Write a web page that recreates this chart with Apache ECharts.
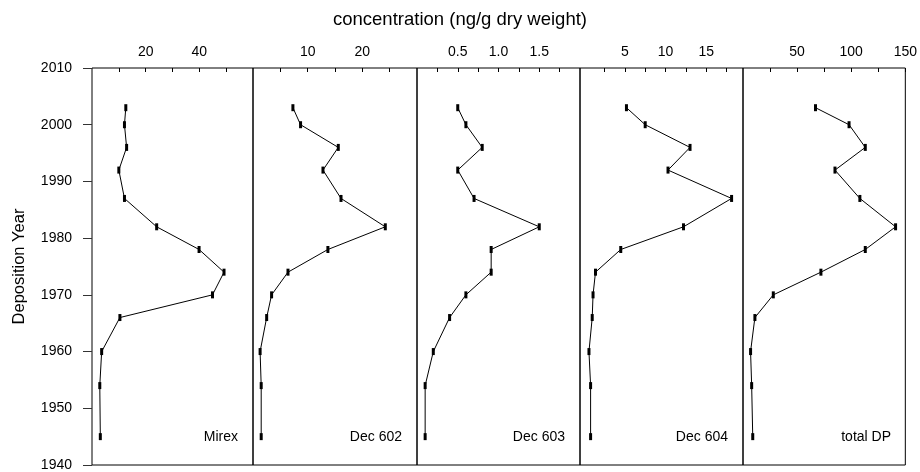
<!DOCTYPE html>
<html>
<head>
<meta charset="utf-8">
<script src="https://cdn.jsdelivr.net/npm/echarts@6/dist/echarts.min.js"></script>
<style>
html,body{margin:0;padding:0;background:#fff;}
#chart{width:920px;height:472px;}
</style>
</head>
<body>
<div id="chart"></div>
<script>
// ---- data ----
const years = [2003, 2000, 1996, 1992, 1987, 1982, 1978, 1974, 1970, 1966, 1960, 1954, 1945];
const mirex = [12.6, 12.1, 12.9, 10.0, 12.1, 24.1, 39.9, 49.2, 44.9, 10.4, 3.6, 2.9, 3.1];
const dec602 = [7.3, 8.7, 15.6, 12.8, 16.1, 24.2, 13.7, 6.4, 3.4, 2.5, 1.3, 1.5, 1.5];
const dec603 = [0.50, 0.60, 0.80, 0.50, 0.70, 1.50, 0.91, 0.91, 0.60, 0.40, 0.20, 0.10, 0.10];
const dec604 = [5.2, 7.5, 13.0, 10.3, 18.1, 12.2, 4.5, 1.4, 1.1, 1.0, 0.6, 0.8, 0.8];
const totalDP = [67, 98, 113, 85, 108, 141, 113, 72, 28, 11, 7, 8, 9];

const panelNames = ['Mirex', 'Dec 602', 'Dec 603', 'Dec 604', 'total DP'];
const panelSeries = [mirex, dec602, dec603, dec604, totalDP];
const axisMin = [0, 0, 0, -0.5, 0];
const axisMax = [60, 30, 2, 19.5, 150];
const tickValues = [
  [10, 20, 30, 40, 50],
  [5, 10, 15, 20, 25],
  [0.25, 0.5, 0.75, 1.0, 1.25, 1.5, 1.75],
  [2.5, 5, 7.5, 10, 12.5, 15, 17.5],
  [25, 50, 75, 100, 125, 150]
];
const tickLabels = [
  [20, 40],
  [10, 20],
  [0.5, 1.0, 1.5],
  [5, 10, 15],
  [50, 100, 150]
];
const labelDecimals = [0, 0, 1, 0, 0];
const yearMin = 1940, yearMax = 2010, yearStep = 10;

// ---- layout ----
const FONT = 'Liberation Sans';
const gridLeft = [92, 253, 417, 580, 743];
const gridWidth = [161, 164, 163, 163, 163];
const gridTop = 68, gridHeight = 397;

const grids = [], xAxes = [], yAxes = [], series = [], graphics = [];
for (let i = 0; i < 5; i++) {
  grids.push({
    left: gridLeft[i], top: gridTop, width: gridWidth[i], height: gridHeight,
    show: true, borderColor: '#000', borderWidth: 1, backgroundColor: 'transparent'
  });
  const dec = labelDecimals[i];
  xAxes.push({
    type: 'value', gridIndex: i, position: 'top',
    min: axisMin[i], max: axisMax[i],
    axisLine: { show: false },
    splitLine: { show: false },
    axisTick: { show: true, inside: true, length: 4, customValues: tickValues[i], lineStyle: { color: '#000' } },
    axisLabel: {
      show: true, customValues: tickLabels[i], margin: 9,
      fontFamily: FONT, fontSize: 14, color: '#000',
      formatter: v => Number(v).toFixed(dec)
    }
  });
  yAxes.push({
    type: 'value', gridIndex: i, min: yearMin, max: yearMax, interval: yearStep,
    show: i === 0,
    offset: 6,
    axisLine: { show: false },
    splitLine: { show: false },
    axisTick: { show: true, inside: false, length: 9, lineStyle: { color: '#333' } },
    axisLabel: { show: true, margin: 14, fontFamily: FONT, fontSize: 14, color: '#000', formatter: v => String(v) },
    name: i === 0 ? 'Deposition Year' : '',
    nameLocation: 'middle', nameGap: 58,
    nameTextStyle: { fontFamily: FONT, fontSize: 16.5, color: '#000' }
  });
  series.push({
    type: 'line', xAxisIndex: i, yAxisIndex: i,
    data: panelSeries[i].map((v, j) => [v, years[j]]),
    symbol: 'rect', symbolSize: [3, 7],
    itemStyle: { color: '#000' },
    lineStyle: { color: '#000', width: 1 },
    animation: false, silent: true
  });
  graphics.push({
    type: 'text', x: gridLeft[i] + gridWidth[i] - 15, y: 437,
    style: { text: panelNames[i], fontFamily: FONT, fontSize: 14, fill: '#000', textAlign: 'right', textVerticalAlign: 'middle' }
  });
}
graphics.push({
  type: 'text', x: 460, y: 20,
  style: { text: 'concentration (ng/g dry weight)', fontFamily: FONT, fontSize: 18.5, fill: '#000', textAlign: 'center', textVerticalAlign: 'middle' }
});

const chart = echarts.init(document.getElementById('chart'), null, { renderer: 'canvas' });
chart.setOption({
  animation: false,
  backgroundColor: '#fff',
  grid: grids, xAxis: xAxes, yAxis: yAxes, series: series, graphic: graphics
});
</script>
</body>
</html>
